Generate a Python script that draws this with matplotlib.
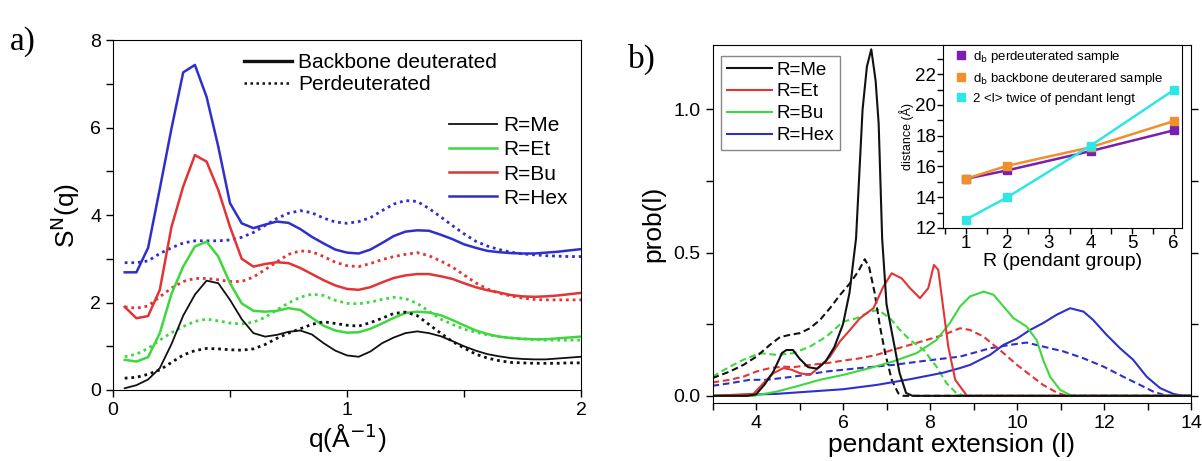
import numpy as np
import matplotlib
matplotlib.use("Agg")
import matplotlib.pyplot as plt
from matplotlib.lines import Line2D
from matplotlib.ticker import MultipleLocator

plt.rcParams['font.family'] = ['Liberation Sans', 'DejaVu Sans']

# ---------- panel a) data : S^N(q) ----------
q = [0.05, 0.10, 0.15, 0.20, 0.25, 0.30, 0.35, 0.40, 0.45, 0.50,
     0.55, 0.60, 0.65, 0.70, 0.75, 0.80, 0.85, 0.90, 0.95, 1.00,
     1.05, 1.10, 1.15, 1.20, 1.25, 1.30, 1.35, 1.40, 1.45, 1.50,
     1.55, 1.60, 1.65, 1.70, 1.75, 1.80, 1.85, 1.90, 1.95, 2.00]

hex_bb = [2.69, 2.69, 3.25, 4.60, 5.98, 7.26, 7.43, 6.70, 5.56, 4.27,
          3.81, 3.70, 3.78, 3.85, 3.82, 3.68, 3.50, 3.35, 3.21, 3.14,
          3.12, 3.21, 3.36, 3.52, 3.62, 3.65, 3.64, 3.55, 3.45, 3.33,
          3.25, 3.18, 3.15, 3.13, 3.12, 3.12, 3.14, 3.16, 3.19, 3.22]
hex_pd = [2.91, 2.91, 2.95, 3.12, 3.25, 3.36, 3.41, 3.41, 3.41, 3.43,
          3.49, 3.60, 3.76, 3.92, 4.04, 4.10, 4.05, 3.93, 3.84, 3.81,
          3.85, 3.94, 4.10, 4.25, 4.33, 4.31, 4.15, 3.96, 3.76, 3.57,
          3.40, 3.29, 3.21, 3.15, 3.11, 3.09, 3.07, 3.06, 3.05, 3.05]
bu_bb = [1.90, 1.64, 1.69, 2.29, 3.73, 4.65, 5.37, 5.22, 4.57, 3.73,
         3.00, 2.82, 2.88, 2.92, 2.90, 2.79, 2.65, 2.51, 2.39, 2.31,
         2.29, 2.35, 2.46, 2.56, 2.62, 2.65, 2.65, 2.60, 2.54, 2.44,
         2.35, 2.28, 2.23, 2.17, 2.14, 2.13, 2.14, 2.16, 2.19, 2.22]
bu_pd = [1.90, 1.87, 1.92, 2.13, 2.33, 2.48, 2.55, 2.55, 2.52, 2.48,
         2.48, 2.58, 2.75, 2.93, 3.10, 3.18, 3.16, 3.05, 2.92, 2.84,
         2.82, 2.89, 2.98, 3.05, 3.10, 3.14, 3.07, 2.95, 2.81, 2.63,
         2.45, 2.31, 2.21, 2.15, 2.10, 2.07, 2.06, 2.06, 2.06, 2.06]
et_bb = [0.69, 0.65, 0.75, 1.30, 2.20, 2.82, 3.28, 3.39, 3.05, 2.44,
         1.98, 1.81, 1.79, 1.81, 1.87, 1.83, 1.65, 1.47, 1.36, 1.31,
         1.32, 1.40, 1.52, 1.65, 1.76, 1.79, 1.77, 1.71, 1.60, 1.48,
         1.36, 1.28, 1.22, 1.19, 1.17, 1.16, 1.16, 1.18, 1.20, 1.22]
et_pd = [0.76, 0.82, 0.95, 1.14, 1.31, 1.45, 1.57, 1.62, 1.58, 1.53,
         1.51, 1.55, 1.66, 1.83, 1.99, 2.12, 2.19, 2.16, 2.05, 1.98,
         1.97, 2.01, 2.07, 2.12, 2.09, 1.98, 1.80, 1.62, 1.50, 1.39,
         1.32, 1.26, 1.22, 1.19, 1.17, 1.15, 1.14, 1.14, 1.14, 1.14]
me_bb = [0.04, 0.11, 0.24, 0.50, 1.05, 1.70, 2.18, 2.50, 2.44, 2.06,
         1.62, 1.30, 1.22, 1.26, 1.33, 1.36, 1.27, 1.07, 0.90, 0.79,
         0.76, 0.88, 1.07, 1.20, 1.30, 1.34, 1.30, 1.23, 1.12, 1.00,
         0.90, 0.82, 0.77, 0.73, 0.71, 0.70, 0.70, 0.72, 0.74, 0.76]
me_pd = [0.27, 0.29, 0.36, 0.46, 0.63, 0.80, 0.90, 0.95, 0.94, 0.92,
         0.91, 0.94, 1.04, 1.18, 1.30, 1.40, 1.50, 1.56, 1.52, 1.48,
         1.46, 1.54, 1.64, 1.75, 1.78, 1.70, 1.50, 1.30, 1.11, 0.96,
         0.82, 0.73, 0.67, 0.63, 0.62, 0.61, 0.61, 0.61, 0.62, 0.62]

# ---------- panel b) data : prob(l) ----------
me_l = [3.0, 3.8, 4.0, 4.2, 4.4, 4.6, 4.7, 4.85, 5.0, 5.2, 5.4, 5.6, 5.8, 6.0,
        6.15, 6.3, 6.45, 6.55, 6.65, 6.75, 6.82, 6.9, 7.0, 7.15, 7.3, 7.45, 7.6, 14.0]
me_p = [0.0, 0.0, 0.005, 0.04, 0.085, 0.15, 0.16, 0.16, 0.13, 0.10, 0.095, 0.12, 0.17, 0.25,
        0.36, 0.55, 1.0, 1.15, 1.21, 1.10, 0.95, 0.55, 0.32, 0.20, 0.08, 0.01, 0.0, 0.0]
me_pl = [3.0, 3.4, 3.71, 4.01, 4.32, 4.55, 4.78, 5.01, 5.24, 5.47, 5.7, 5.93, 6.16,
         6.35, 6.5, 6.6, 6.73, 6.85, 6.97, 7.12, 7.27, 7.39, 14.0]
me_pp = [0.062, 0.085, 0.108, 0.137, 0.178, 0.205, 0.213, 0.219, 0.236, 0.265, 0.306, 0.352, 0.393,
         0.434, 0.477, 0.45, 0.358, 0.242, 0.149, 0.056, 0.009, 0.0, 0.0]

et_l = [3.0, 3.94, 4.17, 4.4, 4.63, 4.82, 5.01, 5.24, 5.47, 5.7, 5.93, 6.16, 6.39, 6.7,
        6.93, 7.12, 7.35, 7.54, 7.77, 7.96, 8.09, 8.19, 8.31, 8.42, 8.58, 8.85, 14.0]
et_p = [0.0, 0.007, 0.044, 0.079, 0.097, 0.091, 0.079, 0.073, 0.102, 0.137, 0.19, 0.23, 0.271, 0.306,
        0.382, 0.428, 0.41, 0.376, 0.341, 0.376, 0.457, 0.44, 0.30, 0.172, 0.056, 0.0, 0.0]
et_pl = [3.0, 3.4, 3.71, 4.01, 4.32, 4.63, 4.86, 5.24, 5.62, 6.0, 6.39, 6.77, 7.15, 7.54,
         7.92, 8.31, 8.69, 8.92, 9.23, 9.46, 9.69, 10.0, 10.3, 10.6, 10.91, 11.14, 14.0]
et_pp = [0.047, 0.056, 0.067, 0.085, 0.097, 0.102, 0.10, 0.108, 0.114, 0.123, 0.131, 0.143, 0.161, 0.178,
         0.195, 0.213, 0.236, 0.23, 0.207, 0.178, 0.149, 0.108, 0.073, 0.038, 0.012, 0.0, 0.0]

bu_l = [3.0, 3.94, 4.48, 4.93, 5.47, 6.0, 6.62, 7.15, 7.69, 8.15, 8.46, 8.69, 8.92, 9.23,
        9.46, 9.69, 9.92, 10.22, 10.45, 10.6, 10.76, 10.99, 11.26, 14.0]
bu_p = [0.0, 0.0, 0.015, 0.033, 0.056, 0.073, 0.097, 0.12, 0.149, 0.195, 0.255, 0.312, 0.347, 0.364,
        0.353, 0.312, 0.271, 0.242, 0.195, 0.126, 0.067, 0.021, 0.0, 0.0]
bu_pl = [3.0, 3.4, 3.71, 4.09, 4.48, 4.86, 5.24, 5.62, 6.0, 6.31, 6.62, 6.81, 7.08, 7.31,
         7.54, 7.85, 8.15, 8.38, 8.61, 8.8, 14.0]
bu_pp = [0.067, 0.102, 0.126, 0.149, 0.143, 0.149, 0.172, 0.207, 0.259, 0.271, 0.294, 0.30, 0.271, 0.23,
         0.195, 0.161, 0.102, 0.044, 0.009, 0.0, 0.0]

hx_l = [3.0, 4.48, 5.24, 6.0, 6.77, 7.54, 8.31, 8.69, 8.92, 9.38, 9.69, 10.0, 10.3, 10.6,
        10.91, 11.22, 11.53, 11.75, 12.06, 12.37, 12.67, 12.98, 13.29, 13.59, 13.82, 14.0]
hx_p = [0.0, 0.007, 0.015, 0.023, 0.038, 0.058, 0.081, 0.097, 0.108, 0.143, 0.178, 0.20, 0.23, 0.254,
        0.283, 0.306, 0.294, 0.265, 0.213, 0.166, 0.126, 0.067, 0.027, 0.007, 0.0, 0.0]
hx_pl = [3.0, 3.4, 3.86, 4.25, 4.86, 5.62, 6.39, 7.15, 7.92, 8.69, 9.38, 9.84, 10.22, 10.6,
         11.07, 11.53, 11.99, 12.44, 12.83, 13.13, 13.44, 14.0]
hx_pp = [0.035, 0.044, 0.056, 0.056, 0.067, 0.085, 0.097, 0.108, 0.123, 0.137, 0.166, 0.178, 0.186, 0.172,
         0.155, 0.131, 0.102, 0.067, 0.038, 0.015, 0.0, 0.0]

# ---------- inset data ----------
R = [1, 2, 4, 6]
d_perd = [15.2, 15.75, 17.0, 18.35]
d_back = [15.2, 16.05, 17.25, 18.95]
twice_l = [12.55, 14.0, 17.35, 20.97]
inset_labels = ['d$_\\mathrm{b}$ perdeuterated sample', 'd$_\\mathrm{b}$ backbone deuterared sample',
                '2 <l> twice of pendant lengt']

BLUE = '#2f2fcc'
RED = '#e23434'
GREEN = '#3ed83e'
BLACK = '#111111'
DOT = (0, (1, 1.4))
DASH = (0, (3.2, 1.8))

fig = plt.figure(figsize=(12.02, 4.61), dpi=100)

# ================= panel a =================
ax = fig.add_axes([113 / 1202, 1 - 390 / 461, 468 / 1202, 350 / 461])
for yb, yp, c, lw in [(hex_bb, hex_pd, BLUE, 1.8), (bu_bb, bu_pd, RED, 1.8),
                      (et_bb, et_pd, GREEN, 1.8), (me_bb, me_pd, BLACK, 1.3)]:
    ax.plot(q, yp, color=c, lw=2.0, ls=DOT)
    ax.plot(q, yb, color=c, lw=lw)
ax.set_xlim(0, 2)
ax.set_ylim(0, 8)
ax.xaxis.set_major_locator(MultipleLocator(1))
ax.xaxis.set_minor_locator(MultipleLocator(0.5))
ax.yaxis.set_major_locator(MultipleLocator(2))
ax.yaxis.set_minor_locator(MultipleLocator(1))
ax.tick_params(which='both', direction='out', length=5, width=1, labelsize=14)
ax.set_xlabel('q(Å$^{-1}$)', fontsize=19, labelpad=2)
ax.set_ylabel('S$^{\\mathrm{N}}$(q)', fontsize=19, labelpad=6)

h_style = [Line2D([], [], color=BLACK, lw=2.4),
           Line2D([], [], color=BLACK, lw=1.8, ls=DOT)]
leg1 = ax.legend(h_style, ['Backbone deuterated', 'Perdeuterated'], loc='upper left',
                 bbox_to_anchor=(0.239, 1.017), frameon=False, fontsize=15,
                 handlelength=2.3, handletextpad=0.3, labelspacing=0.15)
ax.add_artist(leg1)
h_col = [Line2D([], [], color=BLACK, lw=1.3), Line2D([], [], color=GREEN, lw=1.8),
         Line2D([], [], color=RED, lw=1.8), Line2D([], [], color=BLUE, lw=1.8)]
ax.legend(h_col, ['R=Me', 'R=Et', 'R=Bu', 'R=Hex'], loc='upper left',
          bbox_to_anchor=(0.677, 0.836), frameon=False, fontsize=15,
          handlelength=2.3, handletextpad=0.3, labelspacing=0.25)
fig.text(10 / 1202, 1 - 50 / 461, 'a)', fontsize=24, family='Liberation Serif')

# ================= panel b =================
bx = fig.add_axes([712.5 / 1202, 1 - 403 / 461, 478.5 / 1202, 358 / 461])
bx.plot(hx_pl, hx_pp, color=BLUE, lw=1.5, ls=DASH)
bx.plot(et_pl, et_pp, color=RED, lw=1.5, ls=DASH)
bx.plot(bu_pl, bu_pp, color=GREEN, lw=1.5, ls=DASH)
bx.plot(me_pl, me_pp, color=BLACK, lw=1.5, ls=DASH)
l_hx, = bx.plot(hx_l, hx_p, color=BLUE, lw=1.5)
l_bu, = bx.plot(bu_l, bu_p, color=GREEN, lw=1.5)
l_et, = bx.plot(et_l, et_p, color=RED, lw=1.5)
l_me, = bx.plot(me_l, me_p, color=BLACK, lw=1.5)
bx.set_xlim(3, 14)
bx.set_ylim(-0.025, 1.225)
bx.xaxis.set_major_locator(MultipleLocator(2))
bx.xaxis.set_minor_locator(MultipleLocator(1))
bx.yaxis.set_major_locator(MultipleLocator(0.5))
bx.yaxis.set_minor_locator(MultipleLocator(0.25))
bx.yaxis.set_major_formatter(matplotlib.ticker.FormatStrFormatter('%.1f'))
bx.tick_params(which='both', direction='out', length=5, width=1, labelsize=14, right=True)
bx.set_xlabel('pendant extension (l)', fontsize=19, labelpad=1)
bx.set_ylabel('prob(l)', fontsize=19, labelpad=6)
bx.legend([l_me, l_et, l_bu, l_hx], ['R=Me', 'R=Et', 'R=Bu', 'R=Hex'], loc='upper left',
          bbox_to_anchor=(0.01, 0.98), fontsize=13.5, fancybox=False, edgecolor='#888888',
          framealpha=1, handlelength=2.4, handletextpad=0.25, labelspacing=0.25,
          borderpad=0.3, borderaxespad=0.2)
fig.text(628 / 1202, 1 - 68 / 461, 'b)', fontsize=24, family='Liberation Serif')

# ================= inset =================
ix = fig.add_axes([943 / 1202, 1 - 228 / 461, 239 / 1202, 183 / 461])
ix.plot(R, d_perd, color='#7a1fb0', lw=1.8, marker='s', ms=6)
ix.plot(R, d_back, color='#f0902a', lw=1.8, marker='s', ms=6)
ix.plot(R, twice_l, color='#2ee6e6', lw=1.8, marker='s', ms=6)
ix.set_xlim(0.45, 6.2)
ix.set_ylim(12, 23.9)
ix.xaxis.set_major_locator(MultipleLocator(1))
ix.xaxis.set_minor_locator(MultipleLocator(0.5))
ix.yaxis.set_major_locator(MultipleLocator(2))
ix.yaxis.set_minor_locator(MultipleLocator(1))
ix.tick_params(which='both', direction='out', length=4, width=1, labelsize=13.5, pad=1)
ix.set_xlabel('R (pendant group)', fontsize=14, labelpad=1)
ix.set_ylabel('distance (Å)', fontsize=9, labelpad=1)
hs = [Line2D([], [], ls='none', marker='s', ms=6, color=c) for c in ['#7a1fb0', '#f0902a', '#2ee6e6']]
ix.legend(hs, inset_labels, loc='upper left', bbox_to_anchor=(0.0, 1.045),
          frameon=False, fontsize=9.5, handlelength=1.0, handletextpad=0.4, labelspacing=0.45)

fig.savefig('out.png', dpi=100)
